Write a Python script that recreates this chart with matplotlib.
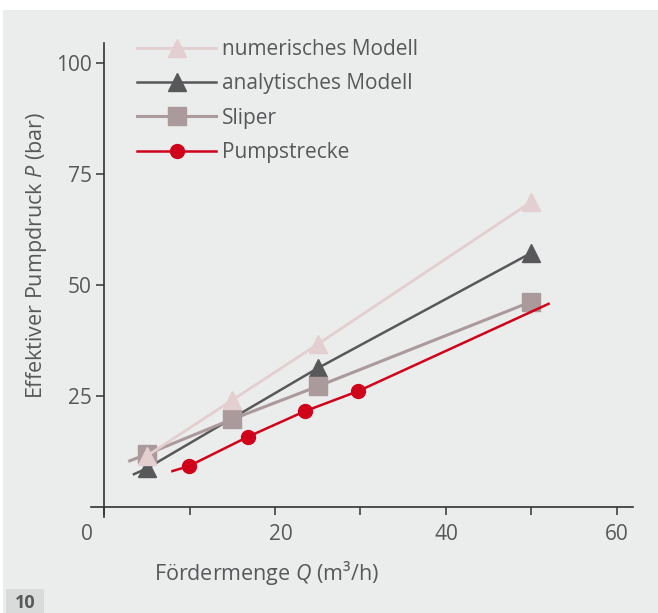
import matplotlib
matplotlib.use("Agg")
import matplotlib.pyplot as plt
import matplotlib.transforms as mtransforms
from matplotlib.patches import Rectangle

# ---------------- data ----------------
q_num = [5, 15, 25, 50]
p_num = [11.5, 24.1, 36.7, 68.8]

q_ana = [5, 15, 25, 50]
p_ana = [8.7, 20.0, 31.3, 57.3]
q_ana_line = [3.5, 5, 15, 25, 50]
p_ana_line = [7.4, 8.7, 20.0, 31.3, 57.3]

q_sli = [5, 15, 25, 50]
p_sli = [11.9, 19.8, 27.2, 46.3]
q_sli_line = [3, 5, 15, 25, 50]
p_sli_line = [10.4, 11.9, 19.8, 27.2, 46.3]

q_pump = [9.9, 16.8, 23.5, 29.7]
p_pump = [9.2, 15.8, 21.6, 26.1]
q_pump_line = [8, 9.9, 16.8, 23.5, 29.7, 52]
p_pump_line = [8.1, 9.2, 15.8, 21.6, 26.1, 45.8]

labels = ["numerisches Modell", "analytisches Modell", "Sliper", "Pumpstrecke"]
x_major = [0, 20, 40, 60]
x_minor = [10, 30, 50]
y_ticks = [25, 50, 75, 100]

# ---------------- style ----------------
plt.rcParams['font.family'] = ['Open Sans', 'DejaVu Sans']
plt.rcParams['mathtext.fontset'] = 'custom'
plt.rcParams['mathtext.rm'] = 'Open Sans'
plt.rcParams['mathtext.it'] = 'Open Sans:italic'
FS = 15
TXT = '#58585a'
BG = '#ebecec'
C_NUM = '#e3cfd0'
C_ANA = '#58585a'
C_SLI = '#ab9a9b'
C_PUMP = '#d0021b'
SPINE = '#333333'

W, H = 658, 613
fig = plt.figure(figsize=(W / 100, H / 100), dpi=100, facecolor='white')
fig.patches.append(Rectangle((3 / W, 0), 1 - 3 / W, 1 - 10 / H,
                             transform=fig.transFigure, facecolor=BG,
                             edgecolor='none', zorder=-10))
fig.patches.append(Rectangle((6 / W, 0), 38 / W, 24 / H,
                             transform=fig.transFigure, facecolor='#d9dada',
                             edgecolor='none', zorder=-9))
fig.text(25 / W, 1 - 603 / H, "10", fontsize=13, fontweight='bold',
         color=TXT, ha='center', va='center')

ax = fig.add_axes([91.2 / W, 1 - 517 / H, (633.2 - 91.2) / W, (517 - 43) / H])
ax.set_facecolor('none')

ax.plot(q_ana_line, p_ana_line, color=C_ANA, lw=1.8, zorder=2)
ax.plot(q_ana, p_ana, ls='none', marker='^', ms=13, color=C_ANA, zorder=2.1)
ax.plot(q_sli_line, p_sli_line, color=C_SLI, lw=2.2, zorder=3)
ax.plot(q_sli, p_sli, ls='none', marker='s', ms=13.5, color=C_SLI, zorder=3.1)
ax.plot(q_num, p_num, color=C_NUM, lw=2.0, zorder=4)
ax.plot(q_num, p_num, ls='none', marker='^', ms=13, color=C_NUM, zorder=4.1)
ax.plot(q_pump_line, p_pump_line, color=C_PUMP, lw=1.8, zorder=5)
ax.plot(q_pump, p_pump, ls='none', marker='o', ms=10, color=C_PUMP, zorder=5.1)

# legend handles
h_num, = ax.plot([], [], color=C_NUM, lw=2.0, marker='^', ms=13)
h_ana, = ax.plot([], [], color=C_ANA, lw=1.8, marker='^', ms=13)
h_sli, = ax.plot([], [], color=C_SLI, lw=2.2, marker='s', ms=13.5)
h_pump, = ax.plot([], [], color=C_PUMP, lw=1.8, marker='o', ms=10)
leg = ax.legend([h_num, h_ana, h_sli, h_pump], labels, loc='upper left',
                bbox_to_anchor=(137 / W, 1 - 39 / H),
                bbox_transform=fig.transFigure, frameon=False, fontsize=FS,
                borderpad=0, borderaxespad=0, handlelength=3.8,
                handletextpad=0.3, labelspacing=0.64, numpoints=1)
for t in leg.get_texts():
    t.set_color(TXT)

ax.set_xlim(-1.5, 61.9)
ax.set_ylim(-2.25, 104.6)

for s in ['top', 'right']:
    ax.spines[s].set_visible(False)
ax.spines['left'].set_position(('data', 0))
ax.spines['bottom'].set_position(('data', 0))
for s in ['left', 'bottom']:
    ax.spines[s].set_color(SPINE)
    ax.spines[s].set_linewidth(1.2)

ax.set_xticks(x_major)
ax.set_xticks(x_minor, minor=True)
ax.set_yticks(y_ticks)
ax.tick_params(axis='x', which='both', direction='out', length=5.5, width=1.1,
               color=SPINE, labelsize=FS, labelcolor=TXT, pad=7)
ax.tick_params(axis='y', which='both', direction='out', length=6, width=1.1,
               color=SPINE, labelsize=FS, labelcolor=TXT, pad=3)

# slight manual label offsets as in the reference
offsets = {0: -17, 20: 6}
for val, tick in zip(x_major, ax.xaxis.get_major_ticks()):
    dx = offsets.get(val, 0)
    if dx:
        lbl = tick.label1
        lbl.set_transform(lbl.get_transform() +
                          mtransforms.ScaledTranslation(dx / 100, 0, fig.dpi_scale_trans))

ax.set_xlabel("Fördermenge $Q$ (m³/h)", fontsize=15.5, color=TXT, va='center')
ax.xaxis.set_label_coords((266 - 91.2) / 542, (517 - 573) / 474)
ax.set_ylabel("Effektiver Pumpdruck $P$ (bar)", fontsize=15.5, color=TXT, va='center')
ax.yaxis.set_label_coords((37 - 91.2) / 542, (517 - 255) / 474)

fig.savefig("out.png", dpi=100, facecolor=fig.get_facecolor())
